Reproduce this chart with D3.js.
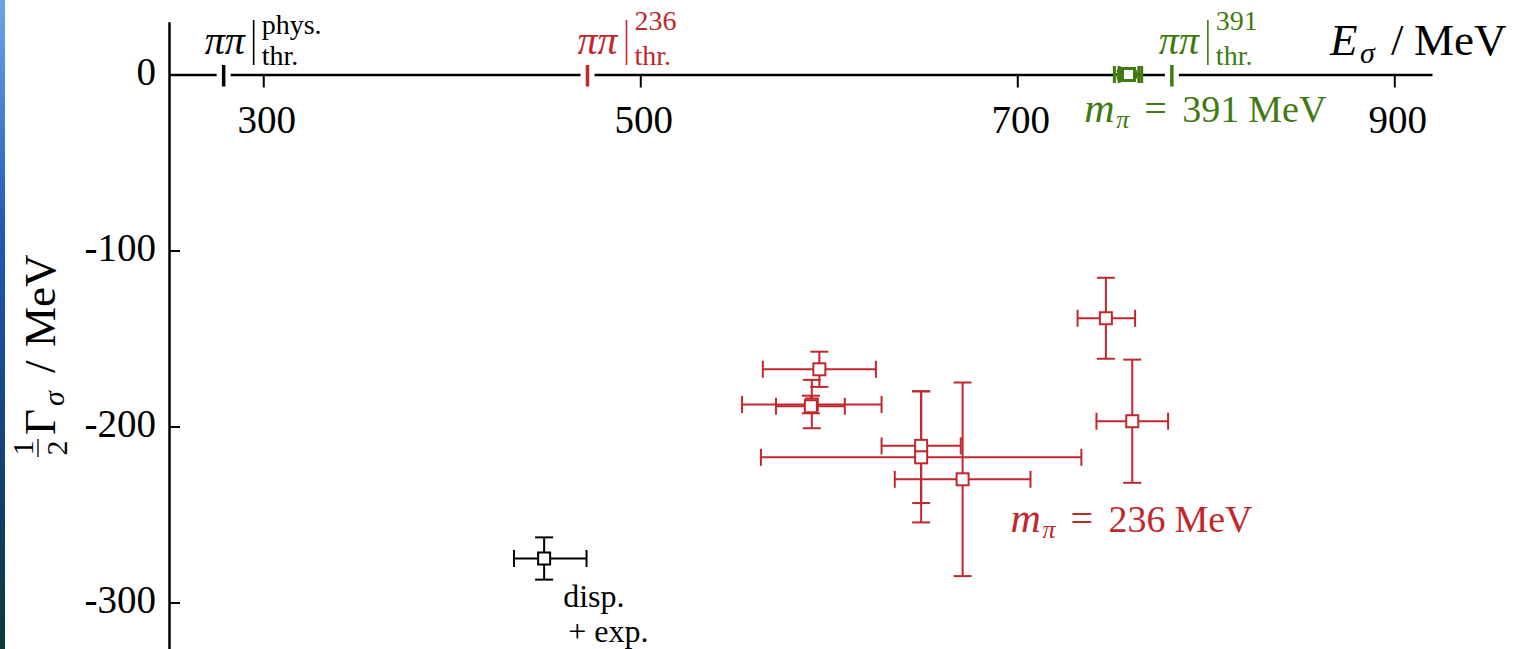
<!DOCTYPE html>
<html>
<head>
<meta charset="utf-8">
<script src="https://cdn.jsdelivr.net/npm/d3@7"></script>
<style>
  html, body { margin: 0; padding: 0; background: #fff; }
  svg { display: block; }
</style>
</head>
<body>
<div id="chart"></div>
<script>
// --- data ---
// pi-pi thresholds, MeV
const thrE = [279, 472, 782];
const thrTop = ["phys.", "236", "391"];

// dispersive + experiment (physical point)
const blkE = [449];
const blkElo = [433];
const blkEhi = [471.5];
const blkG = [-275];
const blkGlo = [-287];
const blkGhi = [-263];

// m_pi = 236 MeV, different parametrisations
const redE = [595, 591, 590.5, 649, 649, 671, 747, 761];
const redElo = [565, 554, 572, 628, 564, 635, 732, 742];
const redEhi = [625, 628, 608.5, 670, 734, 707, 762.5, 780];
const redG = [-167.5, -187.5, -188.5, -211, -217.5, -230, -138.5, -197];
const redGlo = [-177.5, -201, -192.5, -243.5, -254.5, -285, -161.5, -232];
const redGhi = [-157.5, -173.5, -182.5, -180, -180, -175, -115.5, -162];

// m_pi = 391 MeV (bound state, on the real axis)
const grnE = [757.5, 759];
const grnElo = [751.5, 754];
const grnEhi = [766, 764.5];
const grnG = [0, 0];
const grnGlo = [-2, -1.5];
const grnGhi = [2, 1.5];

const xTicks = [300, 500, 700, 900];
const yTicks = [0, -100, -200, -300];

// --- layout ---
const width = 1524;
const height = 649;
const black = "#000";
const red = "#c1272d";
const green = "#3f7a12";
const thrColor = [black, red, green];
const serif = "'Liberation Serif', 'Times New Roman', serif";

const svg = d3.select("#chart").append("svg")
    .attr("width", width)
    .attr("height", height);

// blue strip on the left edge (slide background)
const grad = svg.append("defs").append("linearGradient")
    .attr("id", "strip").attr("x1", 0).attr("y1", 0).attr("x2", 0).attr("y2", 1);
grad.append("stop").attr("offset", "0%").attr("stop-color", "#6aa6e6");
grad.append("stop").attr("offset", "35%").attr("stop-color", "#1f5bb4");
grad.append("stop").attr("offset", "75%").attr("stop-color", "#123f70");
grad.append("stop").attr("offset", "100%").attr("stop-color", "#0b3a3a");
svg.append("rect").attr("x", 0).attr("y", 0).attr("width", 5).attr("height", height)
    .attr("fill", "url(#strip)");

const xs = d3.scaleLinear().domain([250, 920]).range([169, 1432]);
const ys = d3.scaleLinear().domain([30, -330]).range([21.7, 655.3]);
const y0 = ys(0);

// x axis (through Gamma = 0)
const gx = svg.append("g")
    .attr("transform", `translate(0,${y0})`)
    .call(d3.axisBottom(xs).tickValues(xTicks).tickSize(13).tickSizeOuter(0));
gx.select(".domain").attr("stroke-width", 2.5);
gx.selectAll(".tick line").attr("stroke-width", 2);
gx.selectAll(".tick text")
    .attr("x", 3).attr("y", 58.5).attr("dy", 0)
    .attr("font-family", serif).attr("font-size", 39).attr("fill", black);

// y axis, ticks pointing inwards; plain hyphen as in the original
const gy = svg.append("g")
    .attr("transform", `translate(${xs(250)},0)`)
    .call(d3.axisLeft(ys).tickValues(yTicks).tickSize(-11).tickSizeOuter(0)
        .tickFormat(d => String(d)));
gy.select(".domain").attr("stroke-width", 2.5);
gy.selectAll(".tick line").attr("stroke-width", 2);
gy.selectAll(".tick text")
    .attr("x", -13).attr("dy", 10)
    .attr("font-family", serif).attr("font-size", 39).attr("fill", black);

// axis titles
const xt = svg.append("g").attr("font-family", serif).attr("fill", black);
xt.append("text").attr("x", 1330).attr("y", 55).attr("font-size", 45)
    .attr("font-style", "italic").text("E");
xt.append("text").attr("x", 1360).attr("y", 63).attr("font-size", 30)
    .attr("font-style", "italic").text("σ");
xt.append("text").attr("x", 1391).attr("y", 55).attr("font-size", 45).text("/");
xt.append("text").attr("x", 1414).attr("y", 55).attr("font-size", 45).text("MeV");

const yt = svg.append("g").attr("font-family", serif).attr("fill", black)
    .attr("transform", "translate(55,460) rotate(-90)");
yt.append("text").attr("x", 12).attr("y", -22).attr("font-size", 30)
    .attr("text-anchor", "middle").text("1");
yt.append("line").attr("x1", 3).attr("x2", 21).attr("y1", -17).attr("y2", -17)
    .attr("stroke", black).attr("stroke-width", 1.3);
yt.append("text").attr("x", 12).attr("y", 12).attr("font-size", 30)
    .attr("text-anchor", "middle").text("2");
yt.append("text").attr("x", 25).attr("y", 0).attr("font-size", 45).text("Γ");
yt.append("text").attr("x", 54).attr("y", 9).attr("font-size", 30)
    .attr("font-style", "italic").text("σ");
yt.append("text").attr("x", 87).attr("y", 0).attr("font-size", 45).text("/");
yt.append("text").attr("x", 113).attr("y", 0).attr("font-size", 45).text("MeV");

// thresholds on the real axis
const thrLabelDx = [-19, -10, -13];
const thrSupY = [34, 30, 30];
thrE.forEach((e, i) => {
    const x = xs(e);
    svg.append("rect").attr("x", x - 7).attr("y", y0 - 3)
        .attr("width", 14).attr("height", 6).attr("fill", "#fff");
    svg.append("line").attr("x1", x).attr("x2", x)
        .attr("y1", y0 - 9.5).attr("y2", y0 + 12)
        .attr("stroke", thrColor[i]).attr("stroke-width", 3.5);

    const bx = x + thrLabelDx[i];
    const g = svg.append("g").attr("font-family", serif).attr("fill", thrColor[i]);
    g.append("text").attr("x", bx).attr("y", 54).attr("font-size", 40)
        .attr("font-style", "italic").text("ππ");
    g.append("line").attr("x1", bx + 49).attr("x2", bx + 49)
        .attr("y1", 20).attr("y2", 65)
        .attr("stroke", thrColor[i]).attr("stroke-width", 1.6);
    g.append("text").attr("x", bx + 57).attr("y", thrSupY[i]).attr("font-size", 28)
        .text(thrTop[i]);
    g.append("text").attr("x", bx + 57).attr("y", 65).attr("font-size", 28)
        .text("thr.");
});

// error-bar points
function drawPoints(E, Elo, Ehi, G, Glo, Ghi, color, sw) {
    const g = svg.append("g")
        .attr("stroke", color).attr("stroke-width", sw).attr("fill", "none");
    const idx = d3.range(E.length);
    const capH = 8.5, capV = 9;
    idx.forEach(i => {
        const cx = xs(E[i]), cy = ys(G[i]);
        const xl = xs(Elo[i]), xr = xs(Ehi[i]);
        const yt = ys(Ghi[i]), yb = ys(Glo[i]);
        g.append("line").attr("x1", xl).attr("x2", xr).attr("y1", cy).attr("y2", cy);
        g.append("line").attr("x1", xl).attr("x2", xl).attr("y1", cy - capH).attr("y2", cy + capH);
        g.append("line").attr("x1", xr).attr("x2", xr).attr("y1", cy - capH).attr("y2", cy + capH);
        g.append("line").attr("x1", cx).attr("x2", cx).attr("y1", yt).attr("y2", yb);
        g.append("line").attr("x1", cx - capV).attr("x2", cx + capV).attr("y1", yt).attr("y2", yt);
        g.append("line").attr("x1", cx - capV).attr("x2", cx + capV).attr("y1", yb).attr("y2", yb);
    });
    g.selectAll("rect.pt")
        .data(idx)
        .enter()
        .append("rect")
        .attr("class", "pt")
        .attr("x", i => xs(E[i]) - 6)
        .attr("y", i => ys(G[i]) - 6)
        .attr("width", 12)
        .attr("height", 12)
        .attr("fill", "#fff");
}

drawPoints(blkE, blkElo, blkEhi, blkG, blkGlo, blkGhi, black, 2);
drawPoints(redE, redElo, redEhi, redG, redGlo, redGhi, red, 2);
drawPoints(grnE, grnElo, grnEhi, grnG, grnGlo, grnGhi, green, 3);

// annotations
function massLabel(e, gam, mass, color) {
    const x = xs(e), y = ys(gam);
    const g = svg.append("g").attr("font-family", serif).attr("fill", color);
    g.append("text").attr("x", x + 2).attr("y", y).attr("font-size", 42)
        .attr("font-style", "italic").text("m");
    g.append("text").attr("x", x + 34).attr("y", y + 6).attr("font-size", 26)
        .attr("font-style", "italic").text("π");
    g.append("text").attr("x", x + 62).attr("y", y).attr("font-size", 40).text("=");
    g.append("text").attr("x", x + 100).attr("y", y).attr("font-size", 38).text(mass);
    g.append("text").attr("x", x + 166).attr("y", y).attr("font-size", 38).text("MeV");
}
massLabel(734.5, -27, "391", green);
massLabel(695.3, -260, "236", red);

const dl = svg.append("g").attr("font-family", serif).attr("fill", black).attr("font-size", 32);
dl.append("text").attr("x", xs(blkE[0]) + 19).attr("y", ys(blkG[0]) + 48).text("disp.");
dl.append("text").attr("x", xs(blkE[0]) + 24).attr("y", ys(blkG[0]) + 83).text("+ exp.");
</script>
</body>
</html>
